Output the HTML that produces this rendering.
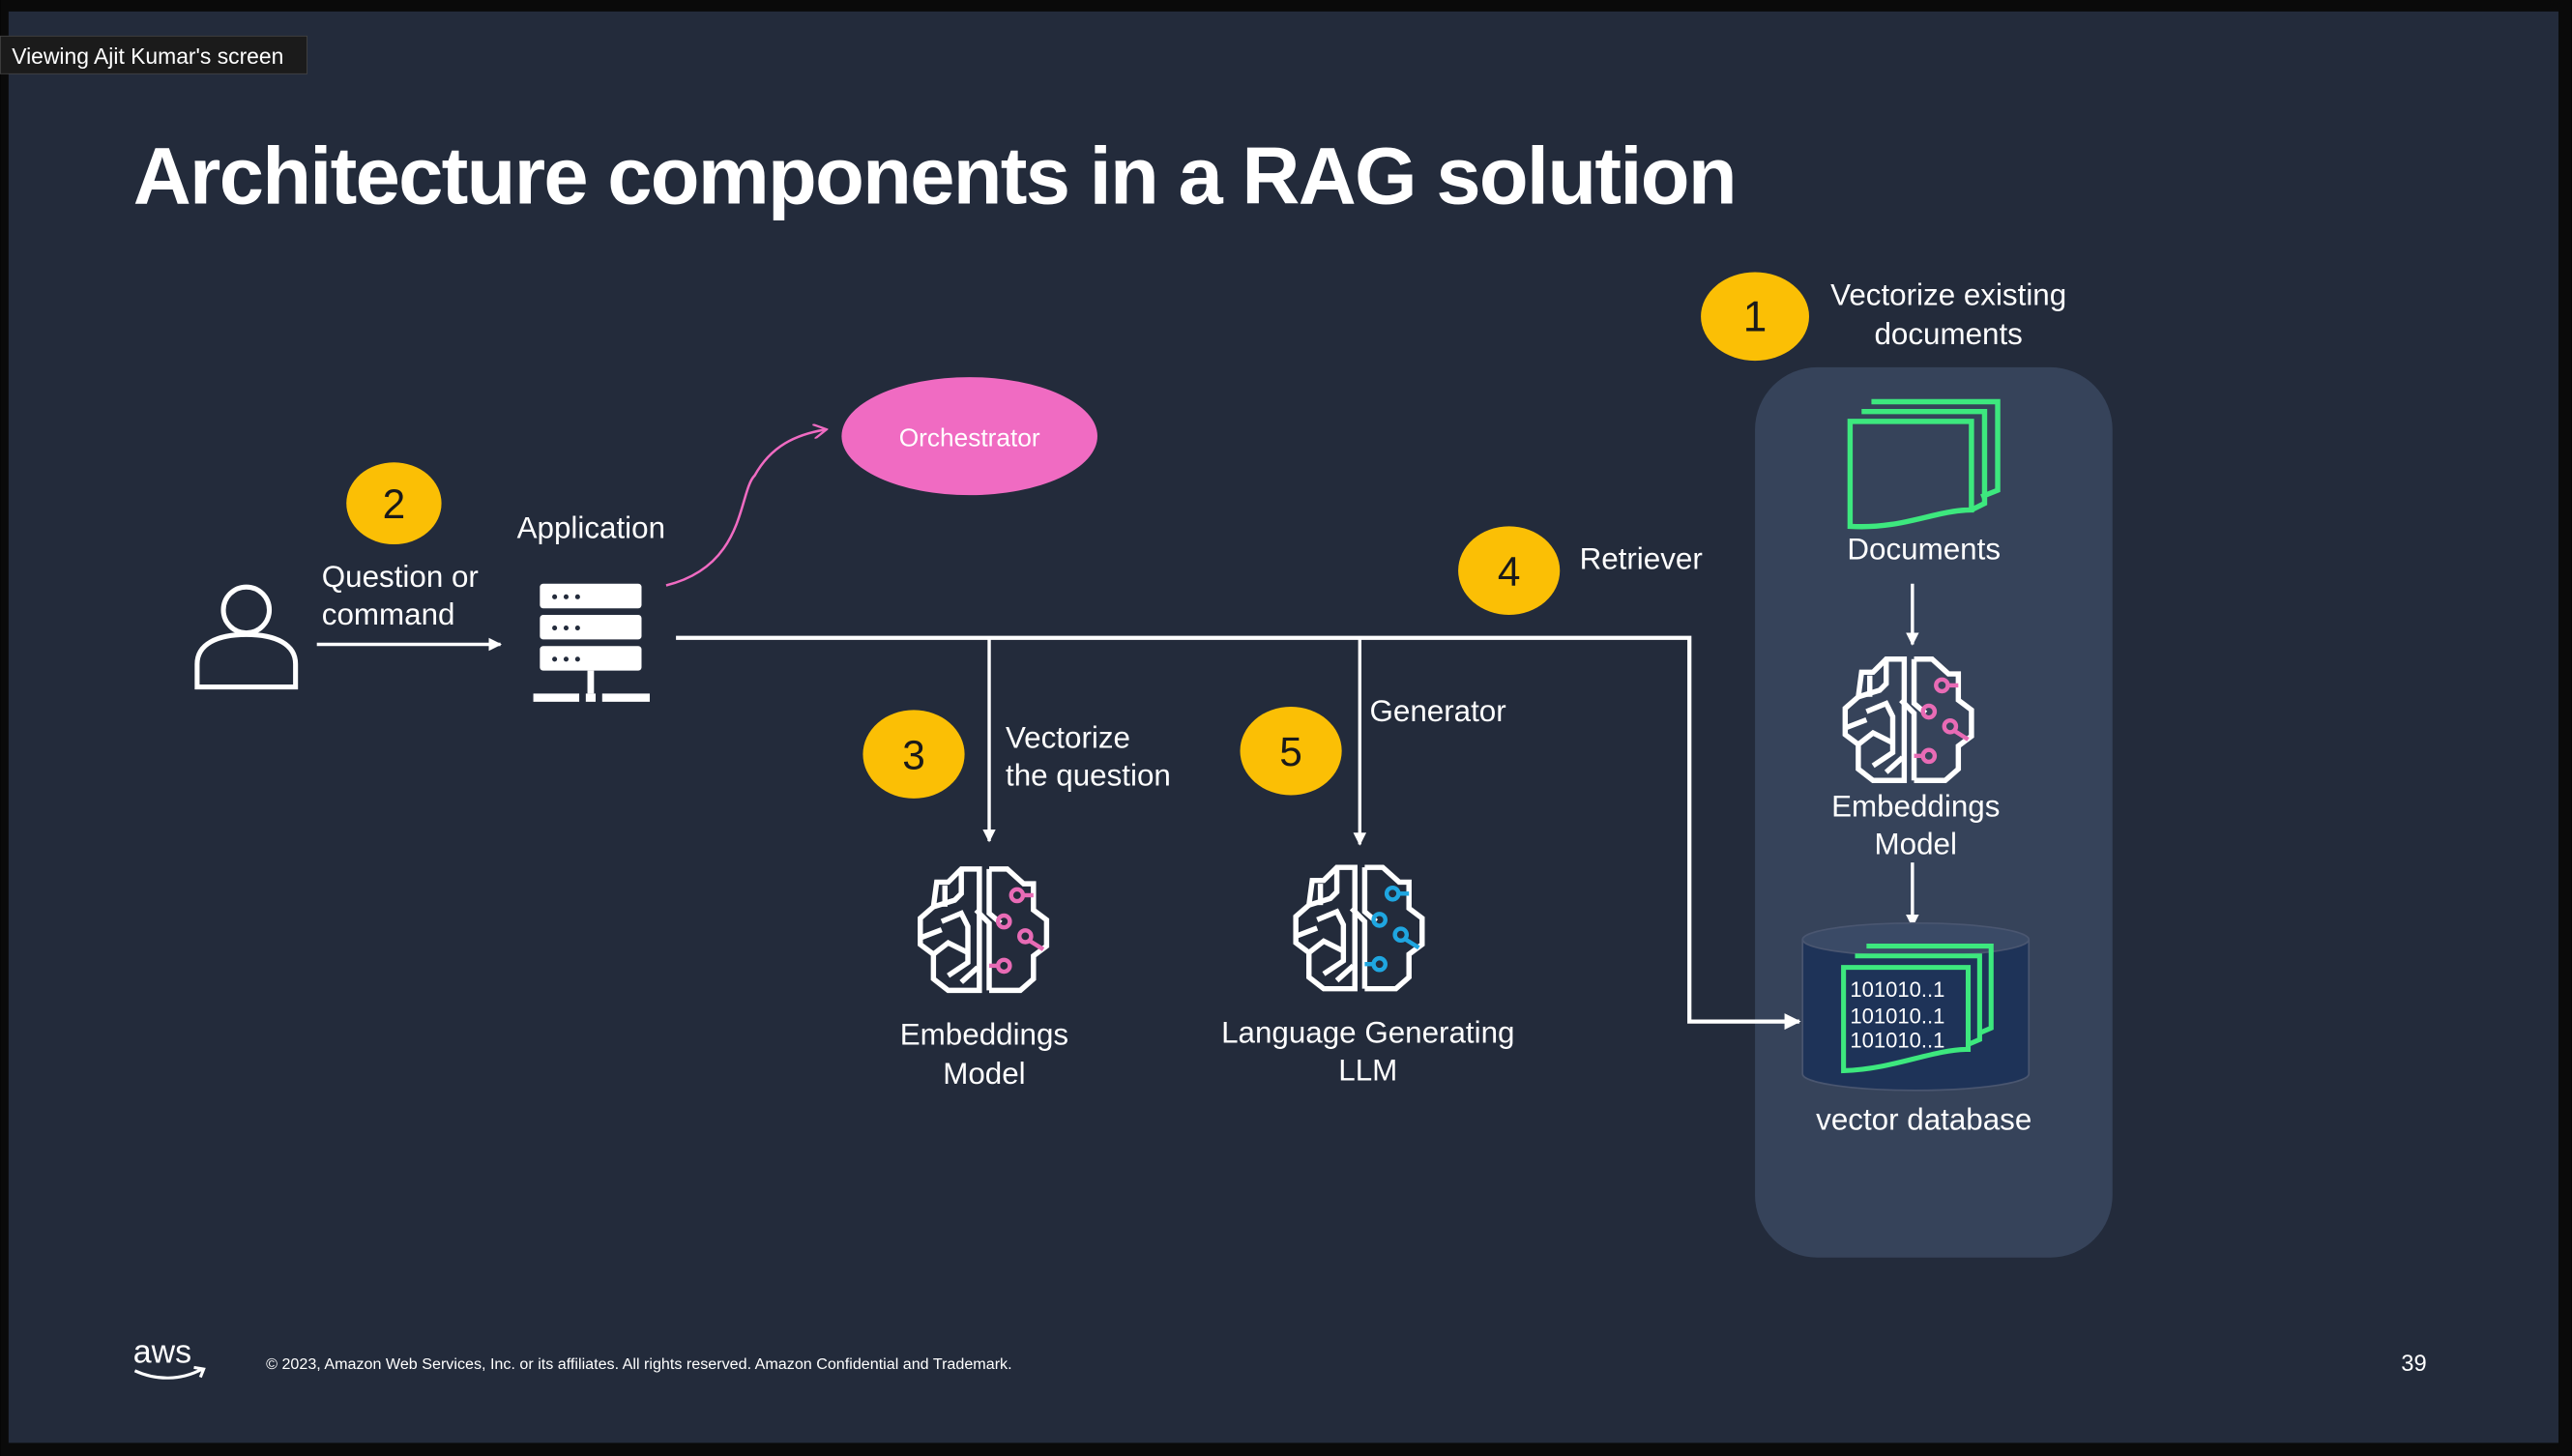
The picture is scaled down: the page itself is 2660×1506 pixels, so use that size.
<!DOCTYPE html>
<html><head><meta charset="utf-8"><style>
html,body{margin:0;padding:0;background:#000;}
svg{display:block;}
text{font-family:"Liberation Sans",sans-serif;fill:#fff;}
</style></head><body>
<svg width="2660" height="1506" viewBox="0 0 1568 888" xmlns="http://www.w3.org/2000/svg">
<defs>
<marker id="ah" viewBox="0 0 10 10" refX="9" refY="5" markerWidth="4" markerHeight="4" orient="auto"><path d="M0,0 L10,5 L0,10 z" fill="#fff"/></marker>
<marker id="ahp" viewBox="0 0 10 10" refX="8" refY="5" markerWidth="6" markerHeight="6" orient="auto"><path d="M0,0 L9,5 L0,10" fill="none" stroke="#f06bc2" stroke-width="1.5"/></marker>
<g id="brain" fill="none" stroke-linejoin="miter">
 <g stroke="#fff" stroke-width="3.2">
  <path d="M-3,-37 L-14,-37 L-22,-29 L-29,-29 L-31,-14 L-39,-7 L-39,9 L-31,15 L-31,30 L-22,37 L-3,37 Z"/>
  <path d="M3,-37 L14,-37 L24,-28 L30,-28 L30,-12 L38,-6 L38,10 L30,16 L30,30 L22,37 L3,37"/>
  <path d="M3,-37 L3,-10 L10,-4"/>
  <path d="M-14,-37 L-14,-22 L-18,-18 L-31,-14"/>
  <path d="M-24,-27 L-24,-14"/>
  <path d="M-5,-12 L3,-4 L3,37"/>
  <path d="M-39,5 L-26,0 M-31,15 L-22,8 L-10,14 M-26,-5 L-14,-10 L-10,-2 L-10,20 L-22,28 M-4,23 L-14,32"/>
 </g>
 <g stroke="currentColor" stroke-width="2.6">
  <circle cx="-2" cy="5" r="0"/>
  <circle cx="20" cy="-21" r="3.6"/><path d="M24,-21 L30,-21"/>
  <circle cx="12" cy="-5" r="3.6"/>
  <circle cx="25" cy="4" r="3.6"/><path d="M28,7 L36,12"/>
  <circle cx="12" cy="22" r="3.6"/><path d="M8,22 L3,22"/>
 </g>
</g>
</defs>
<rect x="0" y="0" width="1568" height="888" fill="#0a0a0a"/>
<rect x="5" y="7" width="1555" height="873" fill="#232b3b"/>
<rect x="0" y="22" width="187" height="23" fill="#1b1b1b" stroke="#444" stroke-width="0.5"/>
<text x="7" y="39" font-size="13.5">Viewing Ajit Kumar's screen</text>
<text x="81" y="124" font-size="49" font-weight="bold" letter-spacing="-1">Architecture components in a RAG solution</text>

<!-- right panel -->
<rect x="1070" y="224" width="218" height="543" rx="38" fill="#36435a"/>
<ellipse cx="1070" cy="193" rx="33" ry="27" fill="#fbbf05"/>
<text x="1070" y="202" font-size="26" text-anchor="middle" fill="#1a1a1a" style="fill:#1a1a1a">1</text>
<text x="1188" y="186" font-size="18.5" text-anchor="middle">Vectorize existing</text>
<text x="1188" y="210" font-size="18.5" text-anchor="middle">documents</text>
<!-- documents -->
<g fill="none" stroke="#3de87e" stroke-width="3.2">
 <path d="M1141,245 L1218,245 L1218,299 L1208,303"/>
 <path d="M1135,251 L1210,251 L1210,307 L1202,311"/>
 <path d="M1128,257 L1202,257 L1202,311 C1180,311 1160,323 1128,321 Z" fill="#36435a"/>
</g>
<text x="1173" y="341" font-size="18.5" text-anchor="middle">Documents</text>
<line x1="1166" y1="356" x2="1166" y2="393" stroke="#fff" stroke-width="2" marker-end="url(#ah)"/>
<use href="#brain" transform="translate(1164,439)" style="color:#e86bb5"/>
<text x="1168" y="498" font-size="18.5" text-anchor="middle">Embeddings</text>
<text x="1168" y="521" font-size="18.5" text-anchor="middle">Model</text>
<line x1="1166" y1="526" x2="1166" y2="565" stroke="#fff" stroke-width="2" marker-end="url(#ah)"/>
<!-- cylinder -->
<path d="M1099,573 L1099,655 A69,10 0 0 0 1237,655 L1237,573" fill="#1e3358" stroke="#4a5670" stroke-width="1"/>
<ellipse cx="1168" cy="573" rx="69" ry="10" fill="#3a4a66" stroke="#4a5670" stroke-width="1"/>
<g fill="none" stroke="#3de87e" stroke-width="3">
 <path d="M1138,577 L1214,577 L1214,627 L1207,630"/>
 <path d="M1131,583 L1207,583 L1207,634 L1200,637"/>
 <path d="M1124,590 L1200,590 L1200,640 C1178,640 1155,652 1124,653 Z" fill="#1e3358"/>
</g>
<text x="1128" y="608" font-size="13">101010..1</text>
<text x="1128" y="624" font-size="13">101010..1</text>
<text x="1128" y="639" font-size="13">101010..1</text>
<text x="1173" y="689" font-size="18.5" text-anchor="middle">vector database</text>

<!-- orchestrator -->
<ellipse cx="591" cy="266" rx="78" ry="36" fill="#f06bc2"/>
<text x="591" y="272" font-size="15.5" text-anchor="middle">Orchestrator</text>
<path d="M406,357 C455,345 450,300 460,290 C470,272 485,265 503,262" fill="none" stroke="#f06bc2" stroke-width="1.5" marker-end="url(#ahp)"/>

<!-- person -->
<g fill="none" stroke="#fff" stroke-width="3">
 <circle cx="150" cy="372" r="14"/>
 <path d="M120,419 L120,405 C120,393 132,387 150,387 C168,387 180,393 180,405 L180,419 Z"/>
</g>
<ellipse cx="240" cy="307" rx="29" ry="25" fill="#fbbf05"/>
<text x="240" y="316" font-size="25" text-anchor="middle" style="fill:#1a1a1a">2</text>
<text x="196" y="358" font-size="18.5">Question or</text>
<text x="196" y="381" font-size="18.5">command</text>
<line x1="193" y1="393" x2="305" y2="393" stroke="#fff" stroke-width="2" marker-end="url(#ah)"/>
<text x="315" y="328" font-size="18.5">Application</text>
<!-- server -->
<g fill="#fff">
 <rect x="329" y="356" width="62" height="15" rx="2"/>
 <rect x="329" y="375" width="62" height="15" rx="2"/>
 <rect x="329" y="394" width="62" height="15" rx="2"/>
 <rect x="358" y="409" width="4" height="14"/>
 <rect x="325" y="423" width="28" height="5"/>
 <rect x="357" y="423" width="6" height="5"/>
 <rect x="367" y="423" width="29" height="5"/>
</g>
<g fill="#232b3b">
 <circle cx="338" cy="364" r="1.5"/><circle cx="345" cy="364" r="1.5"/><circle cx="352" cy="364" r="1.5"/>
 <circle cx="338" cy="383" r="1.5"/><circle cx="345" cy="383" r="1.5"/><circle cx="352" cy="383" r="1.5"/>
 <circle cx="338" cy="402" r="1.5"/><circle cx="345" cy="402" r="1.5"/><circle cx="352" cy="402" r="1.5"/>
</g>

<!-- connectors -->
<polyline points="412,389 1030,389 1030,623 1097,623" fill="none" stroke="#fff" stroke-width="2.5" marker-end="url(#ah)"/>
<line x1="603" y1="389" x2="603" y2="513" stroke="#fff" stroke-width="2" marker-end="url(#ah)"/>
<line x1="829" y1="389" x2="829" y2="515" stroke="#fff" stroke-width="2" marker-end="url(#ah)"/>

<ellipse cx="920" cy="348" rx="31" ry="27" fill="#fbbf05"/>
<text x="920" y="357" font-size="25" text-anchor="middle" style="fill:#1a1a1a">4</text>
<text x="963" y="347" font-size="18.5">Retriever</text>
<ellipse cx="557" cy="460" rx="31" ry="27" fill="#fbbf05"/>
<text x="557" y="469" font-size="25" text-anchor="middle" style="fill:#1a1a1a">3</text>
<text x="613" y="456" font-size="18.5">Vectorize</text>
<text x="613" y="479" font-size="18.5">the question</text>
<ellipse cx="787" cy="458" rx="31" ry="27" fill="#fbbf05"/>
<text x="787" y="467" font-size="25" text-anchor="middle" style="fill:#1a1a1a">5</text>
<text x="835" y="440" font-size="18.5">Generator</text>

<use href="#brain" transform="translate(600,567)" style="color:#e86bb5"/>
<text x="600" y="637" font-size="18.5" text-anchor="middle">Embeddings</text>
<text x="600" y="661" font-size="18.5" text-anchor="middle">Model</text>
<use href="#brain" transform="translate(829,566)" style="color:#1fa6e0"/>
<text x="834" y="636" font-size="18.5" text-anchor="middle">Language Generating</text>
<text x="834" y="659" font-size="18.5" text-anchor="middle">LLM</text>

<!-- footer -->
<text x="81" y="831" font-size="20">aws</text>
<path d="M82,836 C95,842 110,842 123,835 M118,834 L124,835 L122,840" fill="none" stroke="#fff" stroke-width="1.8"/>
<text x="162" y="835" font-size="9.5">© 2023, Amazon Web Services, Inc. or its affiliates. All rights reserved. Amazon Confidential and Trademark.</text>
<text x="1464" y="836" font-size="14">39</text>
</svg>
</body></html>
